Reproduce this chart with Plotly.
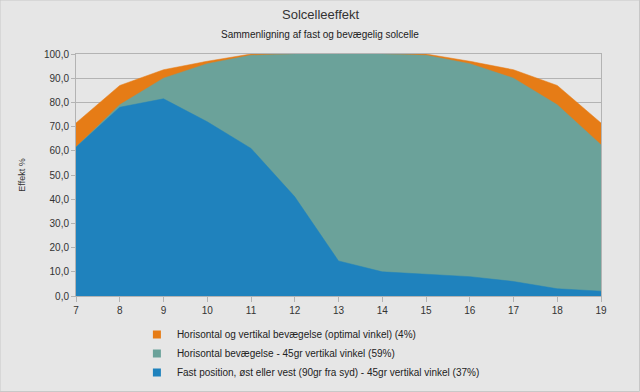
import plotly.graph_objects as go

hours = [7, 8, 9, 10, 11, 12, 13, 14, 15, 16, 17, 18, 19]
optimal = [71.5, 87.0, 93.5, 97.0, 100.0, 100.0, 100.0, 100.0, 100.0, 97.0, 93.5, 87.0, 71.5]
horizontal = [61.5, 79.0, 90.0, 96.0, 99.5, 100.0, 100.0, 100.0, 99.5, 96.0, 90.0, 79.0, 62.5]
fixed = [61.5, 78.0, 81.5, 72.0, 61.0, 41.0, 14.5, 10.0, 9.0, 8.0, 6.0, 3.0, 2.0]

names = [
    "Horisontal og vertikal bevægelse (optimal vinkel) (4%)",
    "Horisontal bevægelse - 45gr vertikal vinkel (59%)",
    "Fast position, øst eller vest (90gr fra syd) - 45gr vertikal vinkel (37%)",
]
colors = ["#E67C16", "#6BA29A", "#1F82BD"]
series = [optimal, horizontal, fixed]

fig = go.Figure()
for name, vals, col in zip(names, series, colors):
    fig.add_trace(go.Scatter(
        x=hours, y=vals, name=name, mode="lines",
        line=dict(width=0.5, color=col), fill="tozeroy", fillcolor=col,
        showlegend=False, legendgroup=name,
    ))
# legend entries with square swatches
for name, col in zip(names, colors):
    fig.add_trace(go.Scatter(
        x=[None], y=[None], name=name, mode="markers", legendgroup=name,
        marker=dict(symbol="square", size=8, color=col), showlegend=True,
    ))

font = "Liberation Sans, Arial, sans-serif"
fig.update_layout(
    width=640, height=392,
    paper_bgcolor="#E6E6E6", plot_bgcolor="#E6E6E6",
    margin=dict(l=76, r=39, t=54, b=96),
    separators=", ",
    font=dict(family=font, size=10, color="#333333"),
    showlegend=True,
    legend=dict(
        orientation="v", xref="paper", x=0.116, xanchor="left",
        yref="container", y=(392 - 320) / 392, yanchor="top",
        bgcolor="rgba(0,0,0,0)", font=dict(size=10, color="#222222"),
        traceorder="normal", itemwidth=30,
    ),
    xaxis=dict(
        range=[7, 19], tickmode="array", tickvals=hours,
        showgrid=False, zeroline=False,
        showline=True, linecolor="#B3B3B3", linewidth=1, mirror=True,
        ticks="outside", ticklen=5, tickcolor="#B3B3B3",
        tickfont=dict(size=10, color="#333333"), automargin=False,
    ),
    yaxis=dict(
        range=[0, 100], dtick=10, tickformat=".1f",
        showgrid=True, gridcolor="#B3B3B3", gridwidth=1, zeroline=False,
        showline=True, linecolor="#B3B3B3", linewidth=1, mirror=True,
        ticks="outside", ticklen=4, tickcolor="#B3B3B3",
        tickfont=dict(size=10, color="#333333"),
        title=dict(text="Effekt %", font=dict(size=9, color="#333333"), standoff=16),
        automargin=False,
    ),
    annotations=[
        dict(text="Solcelleeffekt", xref="paper", yref="paper",
             x=(320 - 76) / 525, y=1 + (54 - 14) / 242, xanchor="center", yanchor="middle",
             showarrow=False, font=dict(size=13, color="#333333", family=font)),
        dict(text="Sammenligning af fast og bevægelig solcelle", xref="paper", yref="paper",
             x=(320 - 76) / 525, y=1 + (54 - 35) / 242, xanchor="center", yanchor="middle",
             showarrow=False, font=dict(size=10, color="#222222", family=font)),
    ],
)
fig.add_shape(type="rect", xref="paper", yref="paper",
              x0=-76/525, x1=1+38.5/525, y0=-95.5/242, y1=1+54/242,
              line=dict(color="#C8C8C8", width=1), fillcolor="rgba(0,0,0,0)", layer="below")

fig.write_html("out.html", config={"displayModeBar": False},
               post_script="document.body.style.margin='0';document.body.style.padding='0';")
